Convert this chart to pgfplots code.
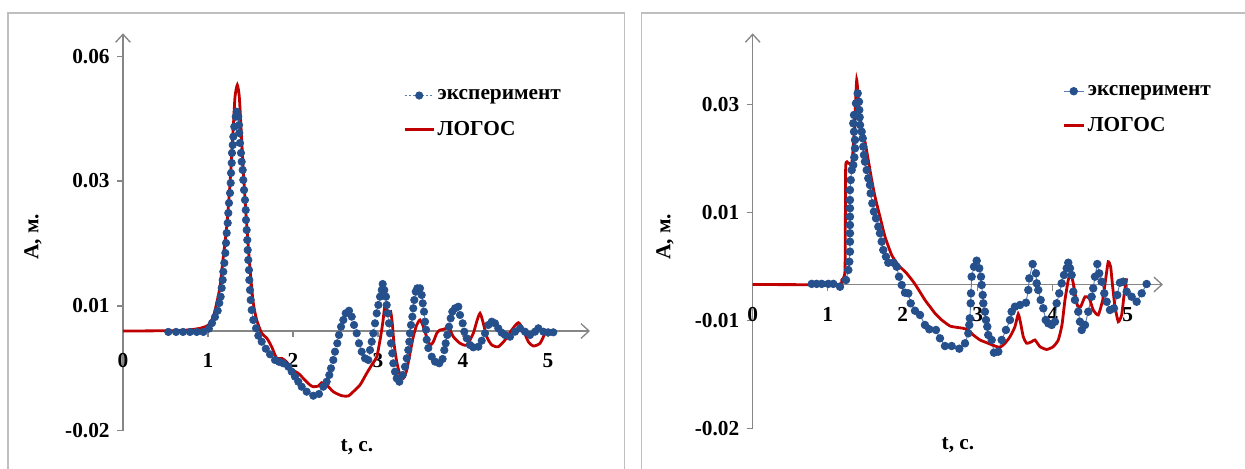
\documentclass[border=0pt]{standalone}
\usepackage{pgfplots}
\usepackage{pgfplotstable}
\pgfplotsset{compat=1.18}
\usepackage{fontspec}
\setmainfont{Liberation Serif}
\usetikzlibrary{arrows.meta}
\definecolor{expblue}{RGB}{38,80,140}
\definecolor{expline}{RGB}{90,125,180}
\definecolor{logred}{RGB}{192,0,0}
\definecolor{axgray}{RGB}{134,134,134}
\definecolor{framegray}{RGB}{191,191,191}

\pgfplotstableread{
t y
0.533 -0.0002
0.624 -0.0002
0.706 -0.0002
0.788 -0.0002
0.867 -0.0002
0.945 -0.0002
1.010 0.0005
1.047 0.0017
1.082 0.0030
1.114 0.00435
1.133 0.0060
1.149 0.00736
1.161 0.00922
1.173 0.01094
1.180 0.01272
1.192 0.01459
1.204 0.01673
1.212 0.01888
1.220 0.02102
1.232 0.02317
1.239 0.02531
1.247 0.02746
1.259 0.0296
1.267 0.03175
1.271 0.03389
1.279 0.03604
1.282 0.03818
1.291 0.0399
1.298 0.04168
1.309 0.04382
1.326 0.04597
1.338 0.04704
1.356 0.04597
1.365 0.04419
1.368 0.04247
1.376 0.04033
1.388 0.03818
1.396 0.03631
1.408 0.03453
1.415 0.03239
1.424 0.03024
1.435 0.0281
1.444 0.02595
1.447 0.02381
1.455 0.02166
1.462 0.01952
1.467 0.01737
1.474 0.01523
1.482 0.01308
1.486 0.01094
1.494 0.00879
1.502 0.00665
1.514 0.0045
1.533 0.00236
1.565 0.00058
1.592 -0.00101
1.632 -0.0023
1.680 -0.0038
1.730 -0.0050
1.788 -0.00622
1.835 -0.0066
1.886 -0.00693
1.945 -0.00766
1.985 -0.00873
2.024 -0.0098
2.062 -0.01088
2.102 -0.01195
2.161 -0.01302
2.239 -0.01388
2.306 -0.01351
2.356 -0.01195
2.396 -0.01088
2.427 -0.00944
2.447 -0.008
2.474 -0.00622
2.494 -0.00444
2.521 -0.00264
2.541 -0.00086
2.565 0.00092
2.592 0.00236
2.620 0.0038
2.659 0.00435
2.691 0.00307
2.718 0.00129
2.749 -0.00049
2.776 -0.00264
2.808 -0.00444
2.847 -0.00586
2.886 -0.00622
2.906 -0.00408
2.926 -0.0023
2.945 -0.00049
2.965 0.00165
2.985 0.0038
3.004 0.00558
3.024 0.00736
3.044 0.00879
3.055 0.01008
3.074 0.00879
3.094 0.00736
3.102 0.00558
3.114 0.0038
3.129 0.00165
3.141 -0.00049
3.153 -0.00264
3.168 -0.00478
3.180 -0.00693
3.200 -0.00873
3.220 -0.01015
3.251 -0.01088
3.291 -0.00944
3.318 -0.00766
3.338 -0.00586
3.356 -0.00408
3.368 -0.0023
3.376 -0.00049
3.388 0.00129
3.404 0.00307
3.415 0.00487
3.427 0.00665
3.444 0.00843
3.462 0.00916
3.494 0.00916
3.514 0.00772
3.526 0.00594
3.541 0.00414
3.553 0.0020
3.565 0.00028
3.573 -0.00187
3.592 -0.00365
3.632 -0.00551
3.671 -0.00658
3.721 -0.00693
3.760 -0.0060
3.780 -0.0041
3.796 -0.00264
3.815 -0.00086
3.835 0.00092
3.855 0.00272
3.874 0.00414
3.906 0.00487
3.945 0.00521
3.965 0.00343
3.996 0.00165
4.015 -0.00015
4.044 -0.00157
4.082 -0.0030
4.121 -0.0035
4.180 -0.00337
4.220 -0.00208
4.259 -0.00049
4.298 0.00129
4.338 0.0020
4.376 0.00165
4.415 0.00058
4.455 -0.00036
4.494 -0.00086
4.553 -0.00122
4.612 -0.00015
4.671 0.00058
4.729 -0.00015
4.788 -0.00086
4.847 -0.00015
4.886 0.00058
4.945 -0.00015
5.004 -0.0003
5.062 -0.00028
}\lexp

\pgfplotstableread{
t y
0 0
0.671 0.0001
0.906 0.00058
1.004 0.00129
1.062 0.00307
1.102 0.00594
1.141 0.0095
1.180 0.01594
1.220 0.02237
1.259 0.03168
1.298 0.04382
1.318 0.05025
1.345 0.05276
1.368 0.05025
1.388 0.04382
1.415 0.03453
1.444 0.02595
1.474 0.01808
1.502 0.01165
1.533 0.00594
1.573 0.00236
1.632 -0.00049
1.691 -0.0015
1.749 -0.00337
1.808 -0.00586
1.867 -0.00586
1.926 -0.00665
1.985 -0.00822
2.062 -0.00907
2.121 -0.01015
2.200 -0.01158
2.239 -0.01195
2.298 -0.0118
2.338 -0.01109
2.396 -0.01158
2.474 -0.01302
2.573 -0.01388
2.651 -0.01394
2.709 -0.01302
2.788 -0.01158
2.867 -0.00907
2.926 -0.00729
2.985 -0.00551
3.024 -0.00193
3.055 0.00165
3.082 0.00558
3.102 0.00487
3.121 0.00343
3.149 0.00414
3.168 0.00165
3.188 -0.00264
3.220 -0.00658
3.259 -0.00944
3.298 -0.01015
3.338 -0.00837
3.376 -0.00478
3.415 -0.00122
3.455 0.00129
3.494 0.00236
3.526 0.00129
3.565 -0.00086
3.612 -0.0030
3.651 -0.0023
3.691 -0.00049
3.729 0.00021
3.768 0.00036
3.808 0.00058
3.847 0.00021
3.886 -0.00122
3.965 -0.00264
4.044 -0.0030
4.121 -0.00049
4.161 0.0020
4.200 0.0038
4.239 0.00165
4.279 -0.00122
4.338 -0.0030
4.415 -0.00337
4.494 -0.00193
4.573 0.00021
4.651 0.00178
4.709 0.00021
4.768 -0.0023
4.827 -0.00322
4.906 -0.00264
4.965 -0.00049
5.004 0.00036
}\llog

\pgfplotstableread{
t y
0.787 0.0001
0.853 0.0001
0.920 0.0001
1.008 0.0001
1.075 0.0001
1.164 -0.00036
1.244 0.00073
1.275 0.00235
1.288 0.00369
1.297 0.00532
1.297 0.00694
1.297 0.0083
1.297 0.00964
1.297 0.01099
1.297 0.01235
1.297 0.01369
1.297 0.01531
1.307 0.01693
1.320 0.01855
1.341 0.01936
1.355 0.02061
1.364 0.02207
1.364 0.02342
1.351 0.02476
1.341 0.02612
1.351 0.02747
1.377 0.02936
1.400 0.03098
1.417 0.02962
1.421 0.02828
1.426 0.0271
1.431 0.02585
1.453 0.02476
1.467 0.02369
1.475 0.02233
1.484 0.02099
1.497 0.0199
1.520 0.01855
1.541 0.01721
1.564 0.01612
1.573 0.01478
1.595 0.01316
1.617 0.0118
1.644 0.01073
1.675 0.00937
1.697 0.0083
1.720 0.00694
1.741 0.00559
1.777 0.0045
1.808 0.00353
1.875 0.00353
1.920 0.00288
1.951 0.00126
1.987 -0.00008
2.031 -0.00133
2.075 -0.00143
2.107 -0.00305
2.164 -0.00425
2.231 -0.00494
2.297 -0.00656
2.355 -0.00726
2.444 -0.00737
2.497 -0.00872
2.564 -0.00997
2.653 -0.00997
2.755 -0.0104
2.831 -0.00953
2.875 -0.00791
2.888 -0.00656
2.895 -0.00548
2.907 -0.00305
2.911 -0.00143
2.920 0.00126
2.951 0.00288
2.987 0.00386
3.021 0.00263
3.044 0.00126
3.053 -0.00008
3.067 -0.0017
3.075 -0.00305
3.097 -0.00441
3.111 -0.00575
3.128 -0.00684
3.141 -0.00818
3.187 -0.00899
3.217 -0.01105
3.275 -0.01089
3.320 -0.00899
3.377 -0.00737
3.431 -0.00575
3.453 -0.0044
3.497 -0.0036
3.564 -0.00332
3.644 -0.00295
3.675 -0.00089
3.688 0.0010
3.733 0.00332
3.777 0.00181
3.787 0.00019
3.808 -0.00089
3.840 -0.00251
3.875 -0.00386
3.907 -0.00575
3.941 -0.00629
3.987 -0.00656
4.031 -0.00603
4.053 -0.00305
4.088 -0.00143
4.120 0.00019
4.151 0.00154
4.187 0.00263
4.208 0.00353
4.231 0.00263
4.253 0.00154
4.275 -0.00117
4.297 -0.00251
4.341 -0.00441
4.364 -0.00603
4.387 -0.00737
4.431 -0.00656
4.475 -0.00441
4.520 -0.00198
4.541 -0.00062
4.564 0.00126
4.595 0.00332
4.621 0.00181
4.653 0.00045
4.688 -0.00143
4.720 -0.00279
4.764 -0.00413
4.817 -0.00386
4.861 -0.0017
4.897 0.00029
4.941 0.00045
4.987 -0.00117
5.053 -0.00198
5.120 -0.00279
5.187 -0.00143
5.253 0.00008
}\rexp

\pgfplotstableread{
t y
0 0
1.120 0
1.187 0.00073
1.231 0.00235
1.240 0.01909
1.275 0.01964
1.320 0.01964
1.341 0.02233
1.364 0.02719
1.387 0.03314
1.417 0.02881
1.453 0.02504
1.497 0.02314
1.541 0.02017
1.587 0.01693
1.631 0.01423
1.697 0.01099
1.764 0.00775
1.853 0.00478
1.941 0.00316
2.053 0.00181
2.141 0.00045
2.187 -0.00036
2.231 -0.00122
2.297 -0.00251
2.364 -0.0036
2.431 -0.00467
2.520 -0.00575
2.631 -0.00673
2.720 -0.00694
2.808 -0.0071
2.875 -0.00737
2.941 -0.00818
3.031 -0.00899
3.120 -0.00943
3.231 -0.00997
3.297 -0.01018
3.364 -0.00953
3.431 -0.00846
3.497 -0.00684
3.541 -0.00478
3.573 -0.00629
3.608 -0.00846
3.653 -0.00953
3.720 -0.00927
3.764 -0.00899
3.831 -0.01008
3.920 -0.01053
4.008 -0.01008
4.075 -0.00899
4.124 -0.00656
4.164 -0.00251
4.208 0.00073
4.240 0.00181
4.275 0.00019
4.328 -0.00332
4.373 -0.0036
4.431 -0.00198
4.488 -0.00224
4.541 -0.00413
4.608 -0.00494
4.667 -0.00251
4.711 0.00126
4.741 0.00369
4.773 0.00288
4.800 -0.00036
4.831 -0.0036
4.875 -0.00603
4.920 -0.00494
4.955 -0.00143
4.987 0.001
}\rlog

\newcommand{\cfont}{\bfseries\fontsize{16}{19}\selectfont}

\pgfplotsset{
  base/.style={
    scale only axis, clip=false,
    scaled ticks=false,
    axis x line=middle, axis y line=left,
    axis line style={axgray, line width=1pt},
    every inner x axis line/.append style={-{Straight Barb[length=6pt,width=11pt,line width=1pt]}},
    every outer y axis line/.append style={-{Straight Barb[length=6pt,width=11pt,line width=1pt]}},
    tick style={axgray, line width=1pt},
    major tick length=4.5pt,
    tick align=outside,
    xtick={0,1,2,3,4,5},
    hide obscured x ticks=false,
    /pgf/number format/assume math mode=true,
    tick label style={font=\cfont, text=black},
    xticklabel style={yshift=-9pt},
    yticklabel style={xshift=-2pt},
    label style={font=\cfont},
    legend style={draw=none, fill=none, anchor=north west, font=\cfont,
      row sep=11pt, cells={anchor=west}, inner sep=0pt},
  }
}

\begin{document}
\begin{tikzpicture}[x=0.75pt,y=0.75pt]
\useasboundingbox (0,0) rectangle (1245,468);
\draw[framegray,line width=0.8pt] (8,-5) -- (8,455) -- (624.3,455) -- (624.3,-5);
\draw[framegray,line width=0.8pt] (641.7,-5) -- (641.7,455) -- (1250,455);

\begin{axis}[base,
  at={(92.25pt,27.975pt)}, anchor=south west,
  width=350.25pt, height=298.05pt,
  xmin=0, xmax=5.494, ymin=-0.021384, ymax=0.063851,
  ytick={-0.021384,0.005362,0.032172,0.058832},
  yticklabels={-0.02,0.01,0.03,0.06},
  xlabel={t, с.}, ylabel={А, м.},
  xlabel style={at={(axis description cs:0.501,-0.041)}, anchor=center},
  ylabel style={at={(axis description cs:-0.1927,0.4874)}, anchor=center},
  legend style={at={(axis description cs:0.5996,0.866)}},
  legend image code/.code={\draw[mark repeat=2,mark phase=2,#1] plot coordinates {(0pt,0pt) (10.9pt,0pt) (21.75pt,0pt)};},
]
\addplot[expline, line width=0.5pt, dash pattern=on 1.6pt off 1.6pt, mark=*, mark size=2.8pt,
  mark options={solid, fill=expblue, draw=expblue}] table[x=t,y=y] {\lexp};
\addplot[logred, line width=2.1pt, smooth, tension=0.4, mark=none] table[x=t,y=y] {\llog};
\legend{эксперимент, ЛОГОС}
\end{axis}

\begin{axis}[base,
  at={(564.525pt,29.775pt)}, anchor=south west,
  width=307.7pt, height=296.25pt,
  xmin=0, xmax=5.471, ymin=-0.023303, ymax=0.040707,
  ytick={-0.023303,-0.005801,0.0117,0.029201},
  yticklabels={-0.02,-0.01,0.01,0.03},
  xlabel={t, с.}, ylabel={А, м.},
  xlabel style={at={(axis description cs:0.5004,-0.0423)}, anchor=center},
  ylabel style={at={(axis description cs:-0.2137,0.4843)}, anchor=center},
  legend style={at={(axis description cs:0.754,0.876)}},
  legend image code/.code={\draw[mark repeat=2,mark phase=2,#1] plot coordinates {(0pt,0pt) (7.5pt,0pt) (15pt,0pt)};},
]
\addplot[expline, line width=0.7pt, mark=*, mark size=2.8pt,
  mark options={solid, fill=expblue, draw=expblue}] table[x=t,y=y] {\rexp};
\addplot[logred, line width=2.1pt, smooth, tension=0.3, mark=none] table[x=t,y=y] {\rlog};
\legend{эксперимент, ЛОГОС}
\end{axis}
\end{tikzpicture}
\end{document}
